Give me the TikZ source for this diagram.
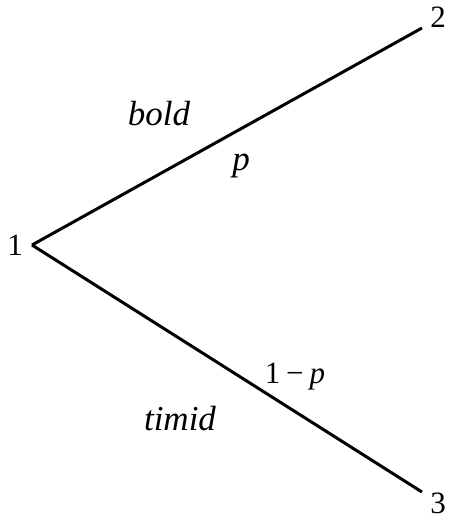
\documentclass[tikz,border=0pt]{standalone}
\usepackage{fontspec}
\setmainfont{Liberation Serif}
\begin{document}
\begin{tikzpicture}[x=1pt,y=-1pt,
  edge/.style={line width=3pt},
  lab/.style={font=\fontsize{35}{40}\selectfont\itshape, inner sep=0pt},
  num/.style={font=\fontsize{31}{36}\selectfont, inner sep=0pt}]
\useasboundingbox (0,0) rectangle (465,519);
\coordinate (n1) at (32,245);
\coordinate (n2) at (422,28);
\coordinate (n3) at (422,492);
\node[num] (l1) at (15,245) {1};
\node[num] (l2) at (438,17) {2};
\node[num] (l3) at (438,503) {3};
\draw[edge] (n1) -- (n2);
\draw[edge] (n1) -- (n3);
\node[lab] (bold) at (159,114) {bold};
\node[lab] (p) at (241,166) {p};
\node[num] (q) at (295,377) {1\hspace{6pt}−\hspace{6pt}\textit{p}};
\node[lab] (timid) at (180,419) {timid};
\end{tikzpicture}
\end{document}
